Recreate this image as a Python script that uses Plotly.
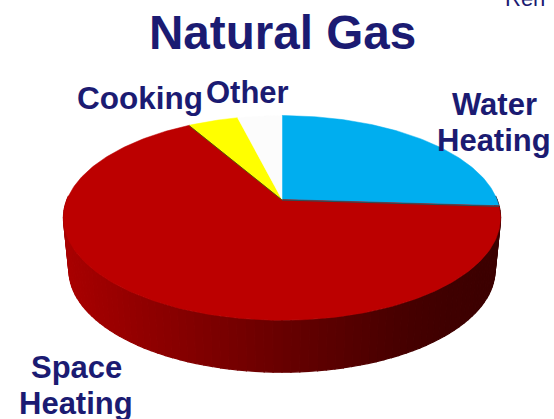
import math
import plotly.graph_objects as go

# Data
labels = ["Water Heating", "Space Heating", "Cooking", "Other"]
values = [26.0, 65.7, 4.4, 3.9]
colors = ["#00AEEF", "#BC0000", "#FFFF00", "#FCFCFC"]
title = "Natural Gas"
NAVY = "#1B1B72"

# Projection of the tilted disc (pixel-valued axes)
CX, CY, R, TILT, PERSP = 282.0, 199.5, 215.0, 99.0, 0.18
DEPTH = 52.0


def top(theta):
    a = math.radians(theta)
    X, Y = math.sin(a), math.cos(a)
    w = 1 + PERSP * Y
    return CX + R * X / w, CY - TILT * Y / w


def bottom(theta):
    x, y = top(theta)
    return CX + (x - CX) * 0.975, y + DEPTH


def side_colour(x):
    stops = [(60, (170, 0, 0)), (160, (140, 0, 0)), (282, (104, 0, 0)),
             (400, (72, 0, 0)), (450, (64, 0, 0)), (505, (60, 0, 0))]
    for (x0, c0), (x1, c1) in zip(stops, stops[1:]):
        if x <= x1:
            t = max(0, (x - x0) / (x1 - x0))
            return "rgb(%d,%d,%d)" % tuple(c0[i] + (c1[i] - c0[i]) * t for i in range(3))
    return "rgb(60,0,0)"


fig = go.Figure()

# Rim, split into thin shaded strips
step = 2.0
t = 88.0
while t < 272.0:
    pts = [t + step * k / 3 for k in range(4)]
    tx, ty = zip(*[top(p) for p in pts])
    bx, by = zip(*[bottom(p) for p in reversed(pts)])
    col = side_colour(top(t + step / 2)[0])
    fig.add_trace(go.Scatter(x=list(tx + bx) + [tx[0]], y=list(ty + by) + [ty[0]],
                             mode="lines", fill="toself", fillcolor=col,
                             line=dict(color=col, width=1.2), hoverinfo="skip", showlegend=False))
    t += step

# Top face: one filled sector per value
total = sum(values)
angle = 0.0
bounds = []
for name, v, c in zip(labels, values, colors):
    sweep = 360.0 * v / total
    n = max(3, int(sweep))
    arc = [top(angle + sweep * k / n) for k in range(n + 1)]
    xs = [CX] + [p[0] for p in arc] + [CX]
    ys = [CY] + [p[1] for p in arc] + [CY]
    fig.add_trace(go.Scatter(x=xs, y=ys, mode="lines", fill="toself", fillcolor=c,
                             line=dict(color=c, width=0.5), name=name,
                             hoverinfo="skip", showlegend=False))
    angle += sweep
    bounds.append(angle)

# Thin dark seams on the slice edges
for b, col in zip(bounds[:2], ["#1F5560", "#5A5A00"]):
    ex, ey = top(b)
    fig.add_trace(go.Scatter(x=[CX, ex], y=[CY + 0.5, ey + 0.5], mode="lines",
                             line=dict(color=col, width=1), hoverinfo="skip", showlegend=False))

texts = [
    (title, 282, 32, 47.6),
    ("Cooking", 140, 98, 31.5),
    ("Other", 247, 92, 31),
    ("Water", 494, 104, 31),
    ("Heating", 494, 140, 31),
    ("Space", 76, 367, 31),
    ("Heating", 76, 403, 31),
]
for s, x, y, size in texts:
    fig.add_annotation(x=x, y=y, text="<b>%s</b>" % s, showarrow=False,
                       xanchor="center", yanchor="middle",
                       font=dict(family="Liberation Sans", size=size, color=NAVY))
fig.add_annotation(x=503, y=0, yshift=2, text="Ren", showarrow=False, xanchor="left", yanchor="middle",
                   font=dict(family="Liberation Sans", size=22, color=NAVY))

fig.update_layout(
    width=554, height=419, margin=dict(l=0, r=0, t=0, b=0),
    paper_bgcolor="white", plot_bgcolor="white", showlegend=False,
    xaxis=dict(range=[0, 554], visible=False, fixedrange=True),
    yaxis=dict(range=[419, 0], visible=False, fixedrange=True),
)
fig.write_html("out.html", config={"displayModeBar": False},
               post_script="document.body.style.margin='0';document.body.style.overflow='hidden';")
